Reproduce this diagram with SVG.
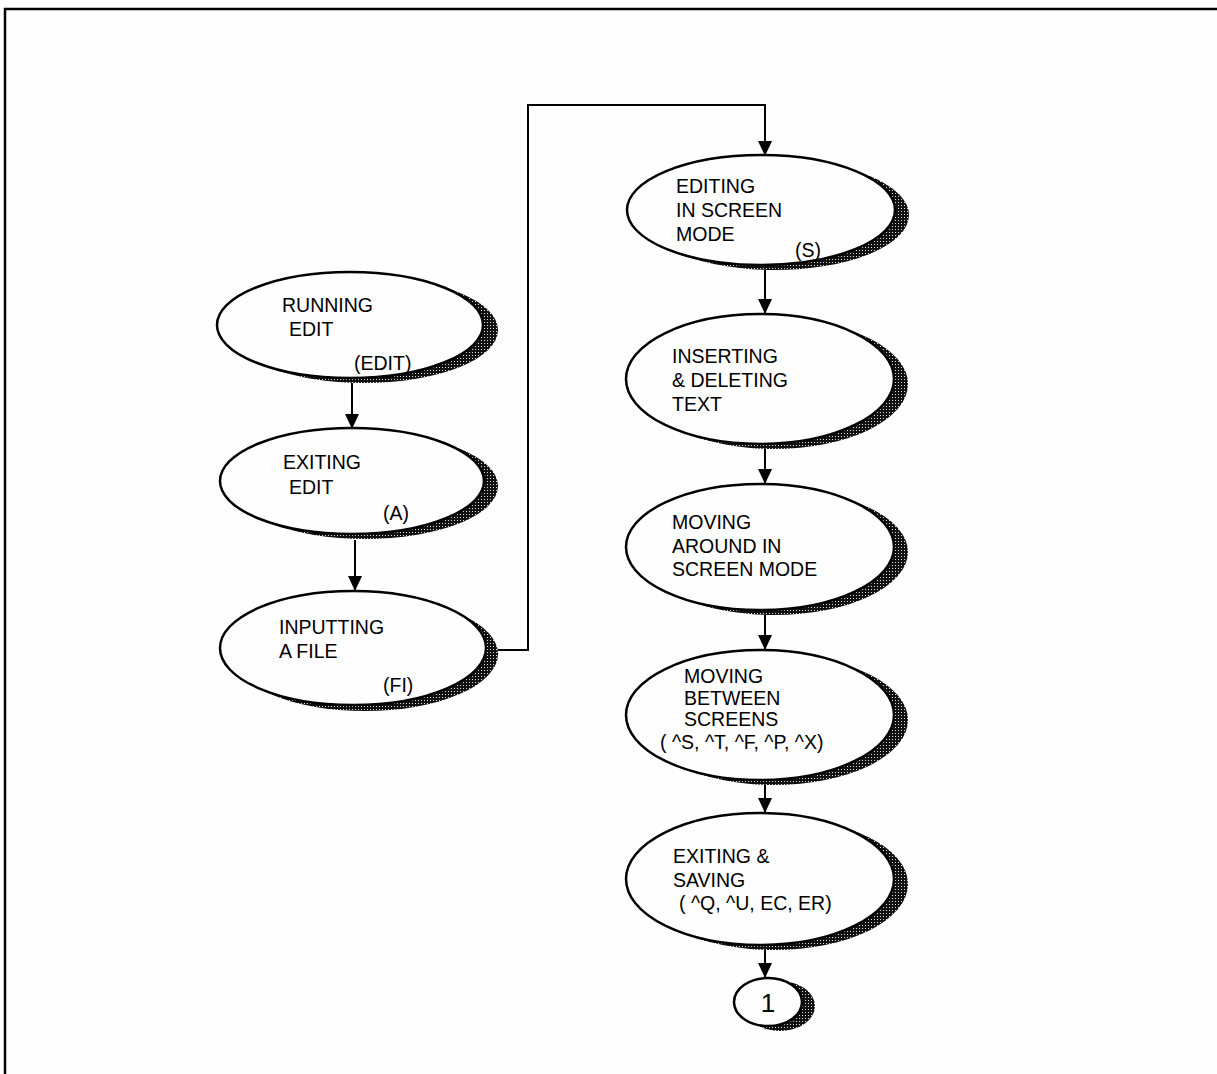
<svg xmlns="http://www.w3.org/2000/svg" width="1217" height="1074" viewBox="0 0 1217 1074">
<style>
.bg{fill:#fefefe}
.sh{fill:url(#dots)}
.el{fill:#fefefe;stroke:#000;stroke-width:2.5}
.t{font-family:"Liberation Sans",Arial,sans-serif;font-size:19.5px;fill:#000}
.c{fill:none;stroke:#000;stroke-width:2}
</style>
<defs>
<pattern id="dots" width="3" height="3" patternUnits="userSpaceOnUse">
<rect width="3" height="3" fill="#111"/>
<rect x="1" y="1" width="1" height="1" fill="#ddd"/>
</pattern>
<marker id="ah" viewBox="0 0 15 14" refX="15" refY="7" markerWidth="15" markerHeight="14" markerUnits="userSpaceOnUse" orient="auto">
<path d="M0,0 L15,7 L0,14 Z" fill="#000"/>
</marker>
</defs>
<rect class="bg" width="1217" height="1074"/>
<path d="M5,1074 V9 H1217" fill="none" stroke="#000" stroke-width="2.5"/>

<g id="running-edit">
<ellipse class="sh" cx="364" cy="330" rx="134" ry="53"/>
<ellipse class="el" cx="350" cy="325" rx="133" ry="53"/>
<text class="t" x="282" y="312">RUNNING</text>
<text class="t" x="289" y="336">EDIT</text>
<text class="t" x="354" y="370">(EDIT)</text>
</g>

<g id="exiting-edit">
<ellipse class="sh" cx="365" cy="486" rx="133" ry="53"/>
<ellipse class="el" cx="352" cy="481" rx="132" ry="53"/>
<text class="t" x="283" y="469">EXITING</text>
<text class="t" x="289" y="494">EDIT</text>
<text class="t" x="383" y="520">(A)</text>
</g>

<g id="inputting-file">
<ellipse class="sh" cx="365" cy="654" rx="133" ry="57"/>
<ellipse class="el" cx="353" cy="648" rx="133" ry="57"/>
<text class="t" x="279" y="634">INPUTTING</text>
<text class="t" x="279" y="658">A FILE</text>
<text class="t" x="383" y="692">(FI)</text>
</g>

<g id="editing-screen">
<ellipse class="sh" cx="775" cy="215" rx="134" ry="55"/>
<ellipse class="el" cx="761" cy="210" rx="134" ry="55"/>
<text class="t" x="676" y="193">EDITING</text>
<text class="t" x="676" y="217">IN SCREEN</text>
<text class="t" x="676" y="241">MODE</text>
<text class="t" x="795" y="257">(S)</text>
</g>

<g id="inserting-deleting">
<ellipse class="sh" cx="774" cy="384" rx="134" ry="65"/>
<ellipse class="el" cx="760" cy="379" rx="134" ry="65"/>
<text class="t" x="672" y="363">INSERTING</text>
<text class="t" x="672" y="387">&amp; DELETING</text>
<text class="t" x="672" y="411">TEXT</text>
</g>

<g id="moving-around">
<ellipse class="sh" cx="774" cy="552" rx="134" ry="63"/>
<ellipse class="el" cx="760" cy="547" rx="134" ry="63"/>
<text class="t" x="672" y="529">MOVING</text>
<text class="t" x="672" y="553">AROUND IN</text>
<text class="t" x="672" y="576">SCREEN MODE</text>
</g>

<g id="moving-between">
<ellipse class="sh" cx="774" cy="720" rx="134" ry="65"/>
<ellipse class="el" cx="760" cy="715" rx="134" ry="65"/>
<text class="t" x="684" y="683">MOVING</text>
<text class="t" x="684" y="705">BETWEEN</text>
<text class="t" x="684" y="726">SCREENS</text>
<text class="t" x="660" y="749">( ^S, ^T, ^F, ^P, ^X)</text>
</g>

<g id="exiting-saving">
<ellipse class="sh" cx="774" cy="884" rx="134" ry="66"/>
<ellipse class="el" cx="760" cy="879" rx="134" ry="66"/>
<text class="t" x="673" y="863">EXITING &amp;</text>
<text class="t" x="673" y="887">SAVING</text>
<text class="t" x="679" y="910">( ^Q,  ^U, EC, ER)</text>
</g>

<g id="connector-1">
<ellipse class="sh" cx="780" cy="1006" rx="35" ry="25"/>
<ellipse class="el" cx="768" cy="1002" rx="34" ry="24"/>
<text class="t" x="768" y="1012" text-anchor="middle" style="font-size:26px">1</text>
</g>

<g id="connectors">
<line class="c" x1="352" y1="383" x2="352" y2="429" marker-end="url(#ah)"/>
<line class="c" x1="355" y1="540" x2="355" y2="591" marker-end="url(#ah)"/>
<polyline class="c" points="498,650 528,650 528,105 765,105 765,156" marker-end="url(#ah)"/>
<line class="c" x1="765" y1="270" x2="765" y2="314" marker-end="url(#ah)"/>
<line class="c" x1="765" y1="449" x2="765" y2="484" marker-end="url(#ah)"/>
<line class="c" x1="765" y1="615" x2="765" y2="650" marker-end="url(#ah)"/>
<line class="c" x1="765" y1="785" x2="765" y2="813" marker-end="url(#ah)"/>
<line class="c" x1="765" y1="950" x2="765" y2="978" marker-end="url(#ah)"/>
</g>
</svg>
